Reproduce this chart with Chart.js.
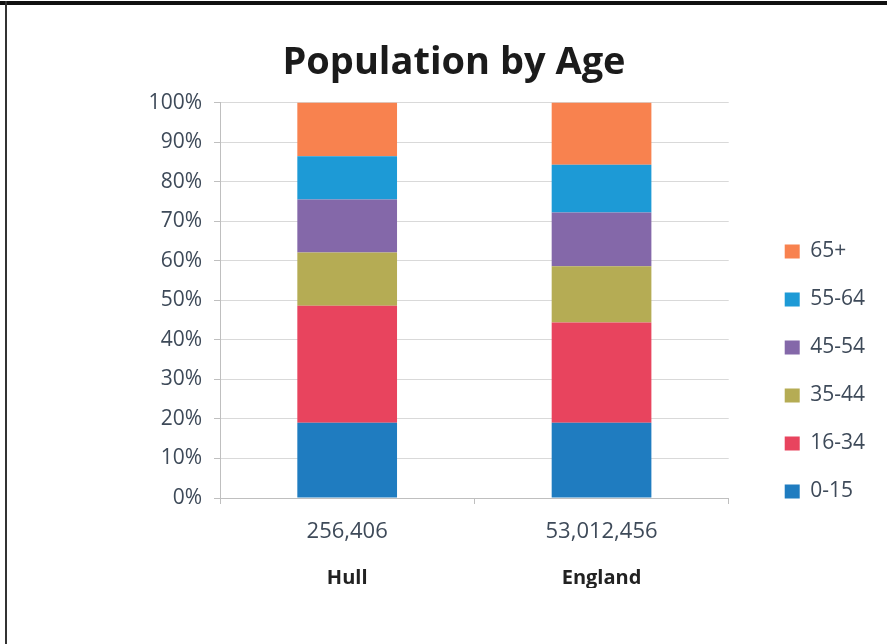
<!DOCTYPE html>
<html>
<head>
<meta charset="utf-8">
<script src="https://cdn.jsdelivr.net/npm/chart.js@4"></script>
<style>
  html,body{margin:0;padding:0;background:#fff;}
  #frame{position:relative;width:887px;height:644px;overflow:hidden;}
  #frame:before{content:'';position:absolute;left:0;top:1px;width:887px;height:4px;background:#111;}
  #frame:after{content:'';position:absolute;left:5px;top:1px;width:2px;height:643px;background:#333;}
  canvas{position:absolute;left:0;top:0;}
</style>
</head>
<body>
<div id="frame"><canvas id="popChart" width="887" height="644"></canvas></div>
<script>
// values (percent of population)
const places = ['Hull', 'England'];
const totals = ['256,406', '53,012,456'];
const ageGroups = ['0-15', '16-34', '35-44', '45-54', '55-64', '65+'];
const hull = [19.0, 29.6, 13.5, 13.4, 10.9, 13.6];
const england = [19.0, 25.4, 14.2, 13.6, 12.1, 15.7];
const yTicks = [0, 10, 20, 30, 40, 50, 60, 70, 80, 90, 100];
const colours = ['#1f7cc0', '#e8445e', '#b5ac54', '#8468a9', '#1d9ad6', '#f8824f'];

const txt = '#3e4a59';
const font = "'Open Sans', sans-serif";

const datasets = ageGroups.map((g, i) => ({
    label: g,
    data: [hull[i], england[i]],
    backgroundColor: colours[i],
    barPercentage: 0.49,
    categoryPercentage: 0.8
}));

// push the legend down a bit so it sits low like the original
const legendDown = {
    id: 'legendDown',
    afterLayout(chart) {
        const lg = chart.legend;
        if (lg) { lg.top += 31; lg.bottom += 31; }
    }
};

const ctx = document.getElementById('popChart').getContext('2d');
const popChart = new Chart(ctx, {
    type: 'bar',
    data: {labels: totals, datasets},
    plugins: [legendDown],
    options: {
        responsive: false,
        animation: false,
        layout: {padding: {left: 33, right: 12, top: 40, bottom: 56}},
        plugins: {
            title: {
                display: true,
                text: 'Population by Age',
                color: '#1b1b1b',
                font: {family: font, size: 38, weight: 'bold'},
                padding: {top: 0, bottom: 17}
            },
            legend: {
                position: 'right',
                align: 'end',
                fullSize: false,
                reverse: true,
                labels: {
                    boxWidth: 15,
                    boxHeight: 14,
                    padding: 27,
                    color: txt,
                    font: {family: font, size: 21}
                }
            },
            tooltip: {enabled: false}
        },
        scales: {
            x: {
                stacked: true,
                grid: {display: true, drawOnChartArea: false, tickLength: 6, color: '#bfbfbf'},
                border: {color: '#bfbfbf'},
                ticks: {color: txt, padding: 17, font: {family: font, size: 22, lineHeight: 1}}
            },
            x2: {
                type: 'category',
                labels: places,
                position: 'bottom',
                grid: {display: false},
                border: {display: false},
                ticks: {color: '#222', padding: 0, font: {family: font, size: 20, weight: 'bold', lineHeight: 1}}
            },
            y: {
                stacked: true,
                min: 0,
                max: 100,
                afterFit(scale) { scale.width = 187; },
                afterBuildTicks(scale) { scale.ticks = yTicks.map(v => ({value: v})); },
                grid: {color: '#d9d9d9', tickLength: 6, tickColor: '#bfbfbf'},
                border: {color: '#bfbfbf'},
                ticks: {color: txt, padding: 12, font: {family: font, size: 21}, callback: v => v + '%'}
            },
            // empty axis, only keeps the gap between plot and legend
            gap: {
                position: 'right',
                min: 0,
                max: 100,
                afterFit(scale) { scale.width = 29; },
                grid: {display: false},
                border: {display: false},
                ticks: {display: false}
            }
        }
    }
});
</script>
</body>
</html>
